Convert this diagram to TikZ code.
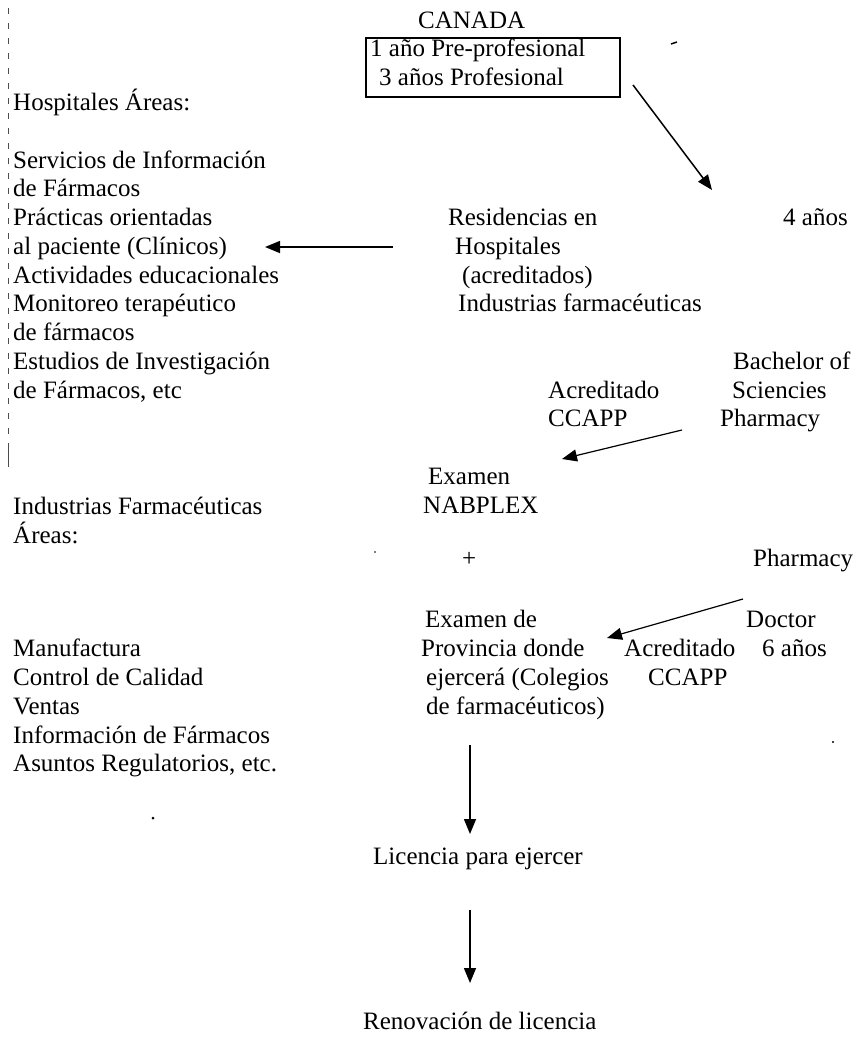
\documentclass[tikz,border=0pt]{standalone}
\usepackage{fontspec}
\setmainfont{Liberation Serif}
\usetikzlibrary{arrows.meta}
\begin{document}
\begin{tikzpicture}[x=1pt,y=-1pt,
  txt/.style={anchor=base west,inner sep=0pt,font=\fontsize{25}{28.75}\selectfont},
  conn/.style={line width=1.5pt,-{Triangle[length=15pt,width=12pt]}},
  framebox/.style={draw,line width=1.3pt},
  speck/.style={fill=black}]
\useasboundingbox (0,0) rectangle (856,1037);
% scan border (dashed)
\draw[line width=0.8pt,dash pattern=on 6pt off 9pt,black!70] (8,8) -- (8,447);
\draw[line width=0.8pt,black!70] (8,447) -- (8,467);
% heading and box
\node[txt] (canada) at (418,28) {CANADA};
\draw[framebox] (366,38) rectangle (620,97);
\node[txt] (pre) at (370,56) {1 año Pre-profesional};
\node[txt] (pro) at (379,85) {3 años Profesional};
% left column: hospitales
\node[txt] (hosp) at (13,110.5) {Hospitales Áreas:};
\node[txt] (h1) at (13,168) {Servicios de Información};
\node[txt] (h2) at (13,196.75) {de Fármacos};
\node[txt] (h3) at (13,225.5) {Prácticas orientadas};
\node[txt] (h4) at (13,254.25) {al paciente (Clínicos)};
\node[txt] (h5) at (13,283) {Actividades educacionales};
\node[txt] (h6) at (13,311.75) {Monitoreo terapéutico};
\node[txt] (h7) at (13,340.5) {de fármacos};
\node[txt] (h8) at (13,369.25) {Estudios de Investigación};
\node[txt] (h9) at (13,398) {de Fármacos, etc};
% left column: industrias
\node[txt] (ind) at (13,514) {Industrias Farmacéuticas};
\node[txt] (areas) at (13,543) {Áreas:};
\node[txt] (i1) at (13,656.75) {Manufactura};
\node[txt] (i2) at (13,685.5) {Control de Calidad};
\node[txt] (i3) at (13,714.25) {Ventas};
\node[txt] (i4) at (13,743) {Información de Fármacos};
\node[txt] (i5) at (13,771.75) {Asuntos Regulatorios, etc.};
% middle column
\node[txt] (res1) at (448,225.5) {Residencias en};
\node[txt] (res2) at (455,254.25) {Hospitales};
\node[txt] (res3) at (462,283) {(acreditados)};
\node[txt] (res4) at (458,311.75) {Industrias farmacéuticas};
\node[txt] (four) at (783,225.5) {4 años};
\node[txt] (bach1) at (733,369.25) {Bachelor of};
\node[txt] (acr1) at (548,398) {Acreditado};
\node[txt] (bach2) at (732,398) {Sciencies};
\node[txt] (cc1) at (548,426.75) {CCAPP};
\node[txt] (bach3) at (720,426.75) {Pharmacy};
\node[txt] (ex1) at (428,484.25) {Examen};
\node[txt] (ex2) at (423,513) {NABPLEX};
\node[txt] (plus) at (462,566) {+};
\node[txt] (pd1) at (753,566) {Pharmacy};
\node[txt] (prov1) at (425,627.5) {Examen de};
\node[txt] (pd2) at (746,627.5) {Doctor};
\node[txt] (prov2) at (421,656.75) {Provincia donde};
\node[txt] (acr2) at (624,656.75) {Acreditado};
\node[txt] (six) at (762,656.75) {6 años};
\node[txt] (prov3) at (426,685.5) {ejercerá (Colegios};
\node[txt] (cc2) at (648,685.5) {CCAPP};
\node[txt] (prov4) at (426,714.25) {de farmacéuticos)};
\node[txt] (lic) at (373,864) {Licencia para ejercer};
\node[txt] (ren) at (363,1029) {Renovación de licencia};
% connector end points
\coordinate (a1s) at (633,85);
\coordinate (a1e) at (712,190);
\coordinate (a2s) at (393,247);
\coordinate (a2e) at (265,247);
\coordinate (a3s) at (682,430);
\coordinate (a3e) at (562,459);
\coordinate (a4s) at (743,599);
\coordinate (a4e) at (607,638);
\coordinate (a5s) at (470,745);
\coordinate (a5e) at (470,834);
\coordinate (a6s) at (470,910);
\coordinate (a6e) at (470,983);
\draw[conn] (a1s) -- (a1e);
\draw[conn] (a2s) -- (a2e);
\draw[conn,line width=1.2pt] (a3s) -- (a3e);
\draw[conn,line width=1.2pt] (a4s) -- (a4e);
\draw[conn] (a5s) -- (a5e);
\draw[conn] (a6s) -- (a6e);
% scan specks
\draw[line width=1.5pt] (671,44) -- (677,42);
\fill[speck] (833,742) circle (1.2pt);
\fill[speck] (153,818) circle (1.5pt);
\fill[speck] (375,552) circle (0.8pt);
\end{tikzpicture}
\end{document}
